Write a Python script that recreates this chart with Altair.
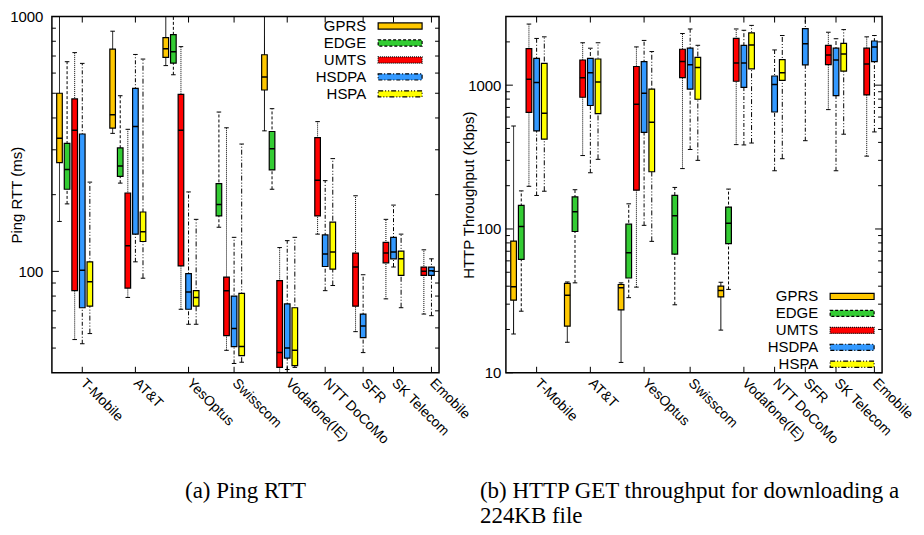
import altair as alt
import pandas as pd

TECHS = ["GPRS", "EDGE", "UMTS", "HSDPA", "HSPA"]
TECH_COLORS = ["#FFC800", "#33CC33", "#FF0000", "#3399FF", "#FFFF00"]
TECH_DASHES = [[1, 0], [3, 2], [1, 1], [4, 2, 1, 2], [5, 2, 1, 2, 1, 2]]

# ---------------- (a) Ping RTT (ms) ----------------
rtt_operator = (["T-Mobile"] * 5 + ["AT&T"] * 5 + ["YesOptus"] * 5 + ["Swisscom"] * 4
                + ["Vodafone(IE)"] * 5 + ["NTT DoCoMo"] * 3 + ["SFR"] * 2
                + ["SK Telecom"] * 3 + ["Emobile"] * 2)
rtt_tech = (["GPRS", "EDGE", "UMTS", "HSDPA", "HSPA"] * 3
            + ["EDGE", "UMTS", "HSDPA", "HSPA"]
            + ["GPRS", "EDGE", "UMTS", "HSDPA", "HSPA"]
            + ["UMTS", "HSDPA", "HSPA"] + ["UMTS", "HSDPA"]
            + ["UMTS", "HSDPA", "HSPA"] + ["UMTS", "HSDPA"])
rtt_low = [157, 184, 54, 52, 57,
           348, 222, 79, 109, 94,
           642, 591, 71, 62, 62,
           149, 49, 43.5, 44,
           356, 210, 38, 41.2, 42,
           140, 84, 88,
           58, 48,
           78, 104, 72,
           68, 67]
rtt_q1 = [267, 210, 84, 72, 73,
          365, 236, 86, 140, 131,
          691, 657, 105, 71, 73,
          165, 56, 50.7, 46.7,
          515, 250, 42, 45.7, 42.7,
          165, 104.5, 102,
          73, 55,
          108, 112, 96.5,
          96.5, 96.5]
rtt_median = [333, 251, 358, 101, 91,
              412, 259, 126, 370, 143,
              748, 727, 358, 83, 79,
              183, 84, 59.7, 50.7,
              579, 303, 48, 50, 49,
              228, 117, 119,
              104, 61,
              118, 119, 112,
              100, 100.5]
rtt_q3 = [500, 318, 475, 346, 109,
          745, 305, 203, 523, 171,
          826, 850, 495, 98, 84,
          221, 95, 80, 82,
          708, 354, 92, 74.5, 72,
          335, 139, 156,
          118, 68,
          130, 136, 120,
          104, 104]
rtt_high = [1500, 665, 722, 655, 224,
            876, 489, 361, 710, 681,
            1500, 1500, 762, 205, 160,
            422, 366, 136, 316,
            1500, 435, 124, 132, 136,
            387, 227, 277,
            198, 97,
            160, 182, 140,
            121.5, 112]

# ---------------- (b) HTTP throughput (Kbps) ----------------
thr_operator = (["T-Mobile"] * 5 + ["AT&T"] * 5 + ["YesOptus"] * 5 + ["Swisscom"] * 4
                + ["Vodafone(IE)"] * 5 + ["NTT DoCoMo"] * 2 + ["SFR"] * 1
                + ["SK Telecom"] * 3 + ["Emobile"] * 2)
thr_tech = (["GPRS", "EDGE", "UMTS", "HSDPA", "HSPA"] * 3
            + ["EDGE", "UMTS", "HSDPA", "HSPA"]
            + ["GPRS", "EDGE", "UMTS", "HSDPA", "HSPA"]
            + ["HSDPA", "HSPA"] + ["HSDPA"]
            + ["UMTS", "HSDPA", "HSPA"] + ["UMTS", "HSDPA"])
thr_low = [18.6, 26.8, 198, 171, 183,
           16.3, 42.2, 324, 246, 305,
           11.8, 33.3, 39.4, 106, 82,
           29.7, 263, 357, 300,
           19.8, 38, 386, 384, 396,
           254, 308,
           411,
           676, 254, 456,
           321, 473]
thr_q1 = [32, 61.5, 647, 481, 422,
          21.1, 96, 824, 722, 634,
          27.4, 45.6, 186, 469, 250,
          66.9, 1127, 939, 798,
          33.7, 79, 1065, 964, 1300,
          651, 1081,
          1384,
          1390, 846, 1252,
          855, 1458]
thr_median = [39.6, 104, 1099, 1042, 637,
              34.6, 131.5, 1127, 1219, 1054,
              39, 68.3, 738, 877, 553,
              123.4, 1458, 1384, 1327,
              37.4, 109.4, 1428, 1428, 1902,
              1011, 1220,
              1943,
              1618, 1496, 1644,
              1406, 1845]
thr_q3 = [82.4, 146, 1795, 1535, 1419,
          41.8, 167, 1496, 1535, 1520,
          41.1, 108, 1348, 1457, 939,
          171.5, 1778, 1807, 1560,
          40.1, 142, 2113, 1893, 2308,
          1158, 1504,
          2474,
          1893, 1807, 1954,
          1807, 2028]
thr_high = [520, 184, 2660, 2113, 2168,
            42.8, 187.5, 1972, 1807, 1972,
            42.2, 149.6, 1845, 2047, 1713,
            194.5, 2286, 2459, 1893,
            42.6, 189.4, 2459, 2408, 2604,
            1758, 2214,
            3500,
            2334, 2103, 2434,
            2168, 2214]

SANS = "Liberation Sans"
SERIF = "Liberation Serif"

fill_scale = alt.Scale(domain=TECHS, range=TECH_COLORS)
dash_scale = alt.Scale(domain=TECHS, range=TECH_DASHES)


def with_slots(ops, techs, lo, q1, med, q3, hi):
    df = pd.DataFrame(dict(op=ops, tech=techs, lo=lo, q1=q1, med=med, q3=q3, hi=hi))
    slots, s, prev = [], 0, None
    for op in ops:
        if prev is not None:
            s += 1 if op == prev else 3
        slots.append(s)
        prev = op
    df["slot"] = slots
    return df


def panel(df, *, W, H, xdomain, ydomain, ymajor, yminor, ytitle, title_x,
          label_pad, legend_x, legend_y, caption):
    ticks_df = df[df.tech == "HSDPA"][["op", "slot"]].reset_index(drop=True)
    names = list(ticks_df.op)
    tslots = [int(v) for v in ticks_df.slot]
    label_expr = ("[" + ",".join("'" + n + "'" for n in names) + "][indexof(["
                  + ",".join(str(v) for v in tslots) + "], datum.value)]")

    xscale = alt.Scale(domain=xdomain, nice=False, zero=False)
    yscale = alt.Scale(type="log", domain=ydomain, nice=False)

    xaxis = alt.Axis(values=tslots, labelExpr=label_expr, labelAngle=45,
                     labelAlign="left", labelBaseline="middle", labelPadding=8,
                     labelFontSize=14, labelFont=SANS, labelColor="black",
                     ticks=False, tickSize=0, domain=False, grid=False, title=None,
                     labelOverlap=False)
    yaxis = alt.Axis(values=ymajor, format="d", ticks=False, tickSize=0,
                     domain=False, grid=False, labelFontSize=15, labelFont=SANS,
                     labelColor="black", labelPadding=label_pad, labelOverlap=False,
                     title=ytitle, titleFont=SANS, titleFontSize=15,
                     titleFontWeight="normal", titleColor="black",
                     titleX=title_x, titleY=H / 2, titleBaseline="middle")

    # legend sample drawn to the right of its (right-aligned) label
    legend = alt.Legend(title=None, orient="none", legendX=legend_x, legendY=legend_y,
                        symbolType="M2.73,-0.41H8.6V0.41H2.73Z", symbolSize=225,
                        symbolStrokeColor="black", symbolStrokeWidth=1.2,
                        symbolOpacity=1, symbolOffset=40,
                        labelAlign="right", labelOffset=0,
                        labelFontSize=15, labelFont=SANS, labelColor="black",
                        rowPadding=0, padding=0)

    def X(f):
        return alt.X(f, scale=xscale, axis=xaxis)

    def Y(f):
        return alt.Y(f, scale=yscale, axis=yaxis)

    base = alt.Chart(df)
    whisk = base.mark_rule(color="black", strokeWidth=1, clip=True).encode(
        x=X("slot:Q"), y=Y("lo:Q"), y2="hi:Q",
        strokeDash=alt.StrokeDash("tech:N", scale=dash_scale, legend=legend),
    )
    capped = base.transform_calculate(cl="datum.slot - 0.3", cr="datum.slot + 0.3")
    cap_lo = capped.mark_rule(color="black", strokeWidth=1, clip=True).encode(
        x=X("cl:Q"), x2="cr:Q", y=Y("lo:Q"))
    cap_hi = capped.mark_rule(color="black", strokeWidth=1, clip=True).encode(
        x=X("cl:Q"), x2="cr:Q", y=Y("hi:Q"))
    boxed = base.transform_calculate(bl="datum.slot - 0.37", br="datum.slot + 0.37")
    box = boxed.mark_rect(stroke="black", strokeWidth=1.2, clip=True).encode(
        x=X("bl:Q"), x2="br:Q", y=Y("q1:Q"), y2="q3:Q",
        fill=alt.Fill("tech:N", scale=fill_scale, legend=legend),
        strokeDash=alt.StrokeDash("tech:N", scale=dash_scale, legend=legend),
    )
    med = boxed.mark_rule(color="black", strokeWidth=1.5, clip=True).encode(
        x=X("bl:Q"), x2="br:Q", y=Y("med:Q"))

    ymaj = pd.DataFrame({"v": ymajor})
    ymin = pd.DataFrame({"v": yminor})
    tick_layers = []
    for d, L in ((ymaj, 7), (ymin, 4)):
        tick_layers.append(alt.Chart(d).mark_rule(color="black", strokeWidth=1).encode(
            y=Y("v:Q"), x=alt.value(0), x2=alt.value(L)))
        tick_layers.append(alt.Chart(d).mark_rule(color="black", strokeWidth=1).encode(
            y=Y("v:Q"), x=alt.value(W), x2=alt.value(W - L)))
    tick_layers.append(alt.Chart(ticks_df).mark_rule(color="black", strokeWidth=1).encode(
        x=X("slot:Q"), y=alt.value(H), y2=alt.value(H - 6)))
    tick_layers.append(alt.Chart(ticks_df).mark_rule(color="black", strokeWidth=1).encode(
        x=X("slot:Q"), y=alt.value(0), y2=alt.value(6)))

    return alt.layer(whisk, cap_lo, cap_hi, box, med, *tick_layers).properties(
        width=W, height=H, title=caption)


H = 357
rtt_df = with_slots(rtt_operator, rtt_tech, rtt_low, rtt_q1, rtt_median, rtt_q3, rtt_high)
thr_df = with_slots(thr_operator, thr_tech, thr_low, thr_q1, thr_median, thr_q3, thr_high)

cap_a = alt.Title("(a) Ping RTT", orient="bottom", anchor="middle", frame="group",
                  font=SERIF, fontSize=23, fontWeight="normal", color="black", offset=34)
cap_b = alt.Title(["(b) HTTP GET throughput for downloading a", "224KB file"],
                  orient="bottom", anchor="start", frame="group", dx=-26,
                  font=SERIF, fontSize=23, fontWeight="normal", color="black",
                  offset=34, lineHeight=25)

pa = panel(rtt_df, W=388, H=H, xdomain=[-1, 50], ydomain=[40, 1000],
           ymajor=[100, 1000], yminor=[50, 60, 70, 80, 90, 200, 300, 400, 500, 600, 700, 800, 900],
           ytitle="Ping RTT (ms)", title_x=-35, label_pad=9,
           legend_x=258, legend_y=1, caption=cap_a)
pb = panel(thr_df, W=377, H=H, xdomain=[-1, 48], ydomain=[10, 3000],
           ymajor=[10, 100, 1000],
           yminor=[20, 30, 40, 50, 60, 70, 80, 90, 200, 300, 400, 500, 600, 700, 800, 900, 2000],
           ytitle="HTTP Throughput (Kbps)", title_x=-37, label_pad=5,
           legend_x=256, legend_y=272, caption=cap_b)

chart = (alt.hconcat(pa, pb, spacing=67, bounds="flush")
         .resolve_scale(x="independent", y="independent", fill="independent",
                        strokeDash="independent")
         .resolve_legend(fill="independent", strokeDash="independent")
         .properties(padding={"left": 0, "top": 0, "right": 0, "bottom": 0})
         .configure(font=SANS, background="white")
         .configure_view(stroke="black", strokeWidth=1.5))

chart.save("out.html", embed_options={"renderer": "svg", "actions": False})
